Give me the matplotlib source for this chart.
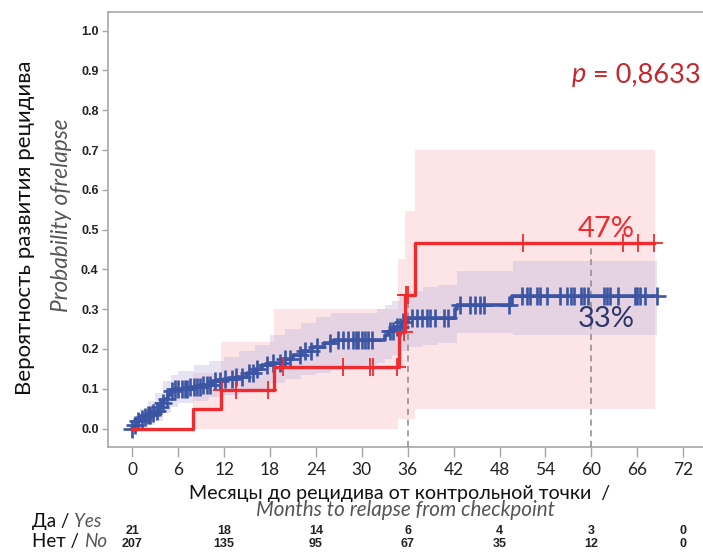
import numpy as np
import matplotlib
matplotlib.use("Agg")
import matplotlib.pyplot as plt
import matplotlib.transforms as mtransforms

plt.rcParams["font.family"] = ["Lato", "DejaVu Sans"]

# ---- data ----
x_ticks = [0, 6, 12, 18, 24, 30, 36, 42, 48, 54, 60, 66, 72]
y_ticks = [0.0, 0.1, 0.2, 0.3, 0.4, 0.5, 0.6, 0.7, 0.8, 0.9, 1.0]

# "Yes" group (red), cumulative incidence, step post
red_t = [0, 7.9, 11.55, 18.5, 34.8, 35.65, 37.0]
red_y = [0.0, 0.048, 0.098, 0.155, 0.243, 0.335, 0.466]
red_end = 68.2
red_cens = [11.7, 13.6, 17.7, 19.7, 27.5, 31.1, 31.4, 34.6, 35.5, 35.8, 36.1,
            51.1, 64.1, 66.1, 68.2]
red_ci_t = [7.9, 11.55, 18.5, 34.7, 35.6, 37.0]
red_ci_lo = [0.0, 0.0, 0.0, 0.025, 0.025, 0.048]
red_ci_hi = [0.14, 0.218, 0.30, 0.425, 0.548, 0.70]
red_ci_end = 68.3

# "No" group (blue)
blue_t = [0, 0.3, 0.7, 1.0, 1.5, 2.0, 2.5, 3.0, 3.4, 3.8, 4.2, 4.6, 5.0, 5.6,
          7.5, 9.0, 10.5, 12.0, 13.5, 15.0, 16.2, 17.0, 18.0, 19.5, 21.0, 22.2,
          23.5, 25.0, 26.3, 33.0, 33.6, 34.3, 35.2, 36.0, 42.2, 42.5, 49.6]
blue_y = [0.0, 0.01, 0.02, 0.025, 0.03, 0.035, 0.04, 0.045, 0.055, 0.065, 0.075,
          0.085, 0.095, 0.10, 0.105, 0.11, 0.12, 0.125, 0.13, 0.14, 0.15, 0.16,
          0.165, 0.175, 0.185, 0.195, 0.205, 0.215, 0.222, 0.235, 0.245, 0.255,
          0.268, 0.278, 0.30, 0.31, 0.333]
blue_end = 68.6
blue_cens = [0.0, 0.35, 0.8, 1.2, 1.65, 2.1, 2.3, 2.75, 3.2, 3.6, 4.05, 4.5, 5.15,
             5.6, 6.0, 6.5, 6.9, 7.2, 7.6, 8.0, 8.4, 8.9, 9.3, 9.7, 10.2, 10.8,
             11.5, 12.1, 13.0, 13.6, 14.3, 15.2, 15.8, 16.3, 17.6, 18.4, 19.3,
             20.0, 20.6, 21.9, 22.6, 23.4, 24.1, 25.8, 26.9, 27.6, 28.2, 28.9,
             29.2, 29.5, 30.0, 30.4, 30.8, 31.3, 33.7, 34.1, 34.6, 35.0, 35.4,
             36.5, 37.2, 37.8, 38.5, 38.9, 39.6, 40.7, 41.3, 42.8, 44.2, 44.8,
             45.5, 46.0, 49.2, 50.9, 51.6, 52.0, 52.9, 53.3, 54.2, 55.9, 56.8,
             57.3, 57.7, 58.7, 59.1, 59.6, 61.6, 62.0, 62.4, 63.5, 65.7, 66.0,
             66.4, 67.0, 68.6]
blue_ci_t = [0, 1, 2, 3, 4, 5, 6, 8, 10, 12, 14, 16, 18, 20, 22, 24, 26, 28, 30,
             32, 33, 34, 35, 36, 38, 40, 42.4, 49.7]
blue_ci_lo = [0.0, 0.0, 0.01, 0.02, 0.04, 0.055, 0.065, 0.07, 0.08, 0.085, 0.09,
              0.10, 0.115, 0.125, 0.135, 0.14, 0.15, 0.155, 0.16, 0.165, 0.175,
              0.185, 0.195, 0.205, 0.21, 0.215, 0.24, 0.235]
blue_ci_hi = [0.0, 0.05, 0.07, 0.09, 0.12, 0.135, 0.145, 0.16, 0.17, 0.18, 0.195,
              0.21, 0.235, 0.25, 0.265, 0.28, 0.29, 0.29, 0.29, 0.30, 0.31, 0.32,
              0.335, 0.345, 0.355, 0.36, 0.395, 0.42]
blue_ci_end = 68.6

guide_t = [36, 60]
p_value = "0,8633"
yes_label = "47%"
no_label = "33%"
risk_t = [0, 12, 24, 36, 48, 60, 72]
risk_yes = [21, 18, 14, 6, 4, 3, 0]
risk_no = [207, 135, 95, 67, 35, 12, 0]

RED = "#ef2b2f"
BLUE = "#3b55a4"
GREY_TXT = "#555555"


def step_at(t, y, q):
    idx = np.searchsorted(t, q, side="right") - 1
    return np.asarray(y)[np.clip(idx, 0, len(y) - 1)]


fig = plt.figure(figsize=(7.03, 5.53), dpi=100)
ax = fig.add_axes([0.154, 0.192, 0.846, 0.787])

# confidence bands
ax.fill_between(red_ci_t + [red_ci_end], red_ci_lo + [red_ci_lo[-1]],
                red_ci_hi + [red_ci_hi[-1]], step="post", color="#fde4e7",
                lw=0, zorder=1)
ax.fill_between(blue_ci_t + [blue_ci_end], blue_ci_lo + [blue_ci_lo[-1]],
                blue_ci_hi + [blue_ci_hi[-1]], step="post", color="#c6bde2",
                alpha=0.42, lw=0, zorder=2)

# guide lines
ax.vlines(guide_t, -0.046, step_at(red_t, red_y, guide_t), colors="#8a8a8a",
          linestyles=(0, (4, 3)), lw=1.1, zorder=3)

# blue curve
ax.step(blue_t + [blue_end], blue_y + [blue_y[-1]], where="post", color=BLUE,
        lw=2.6, zorder=4)
ax.plot(blue_cens, step_at(blue_t, blue_y, blue_cens), ls="none", marker="+",
        ms=13, mew=1.9, color=BLUE, zorder=4)

# red curve
ax.step(red_t + [red_end], red_y + [red_y[-1]], where="post", color=RED,
        lw=2.4, zorder=5)
ax.plot(red_cens, step_at(red_t, red_y, red_cens), ls="none", marker="+",
        ms=13, mew=1.3, color=RED, zorder=5)

ax.set_xlim(-3.15, 74.6)
ax.set_ylim(-0.046, 1.048)
ax.set_xticks(x_ticks)
ax.set_yticks(y_ticks)
ax.set_yticklabels([f"{v:.1f}" for v in y_ticks], fontfamily="Liberation Sans",
                   fontweight="bold", fontsize=9, color="#333333")
ax.set_xticklabels([str(v) for v in x_ticks], fontsize=12.5, color="#222222")
for s in ["left", "bottom", "top"]:
    ax.spines[s].set_color("#a8a8a8")
    ax.spines[s].set_linewidth(1.2)
ax.spines["right"].set_visible(False)
ax.tick_params(axis="both", colors="#a8a8a8", labelcolor="#222222", width=1)
ax.tick_params(axis="y", length=4, pad=3)
ax.tick_params(axis="x", length=7, pad=4)

# annotations
ax.text(62.0, 0.502, yes_label, color=RED, fontsize=21, ha="center", va="center",
        zorder=6)
ax.text(62.0, 0.276, no_label, color="#2c3767", fontsize=21, ha="center",
        va="center", zorder=6)


def chain(x, y, parts):
    t = fig.text(x, y, parts[0][0], ha="left", va="bottom", **parts[0][1])
    for s, kw in parts[1:]:
        t = ax.annotate(s, xy=(1, 0), xycoords=t, ha="left", va="bottom", **kw)
    return t


chain(572 / 703, 1 - 87 / 553, [("p", dict(color="#c8262c", fontsize=19.5, style="italic")),
                               (" = " + p_value, dict(color="#c8262c", fontsize=19.5))])

fig.text(25 / 703, 1 - 228 / 553, "Вероятность развития рецидива", rotation=90,
         ha="center", va="center", fontsize=16, color="#111111")
fig.text(62 / 703, 1 - 215 / 553, "Probability ofrelapse", rotation=90,
         ha="center", va="center", fontsize=16.3, style="italic", color=GREY_TXT)
fig.text(400 / 703, 1 - 493 / 553, "Месяцы до рецидива от контрольной точки  /",
         ha="center", va="center", fontsize=14.1, color="#111111")
fig.text(405 / 703, 1 - 510 / 553, "Months to relapse from checkpoint",
         ha="center", va="center", fontsize=14.9, style="italic", color=GREY_TXT)

chain(32 / 703, 1 - 530 / 553, [("Да / ", dict(fontsize=13.5, color="#111111")),
                               ("Yes", dict(fontsize=13.5, color=GREY_TXT,
                                            style="italic"))])
chain(32 / 703, 1 - 550 / 553, [("Нет / ", dict(fontsize=13.5, color="#111111")),
                               ("No", dict(fontsize=13.5, color=GREY_TXT,
                                           style="italic"))])

trans = mtransforms.blended_transform_factory(ax.transData, fig.transFigure)
for t, a, b in zip(risk_t, risk_yes, risk_no):
    ax.text(t, 1 - 531 / 553, str(a), transform=trans, ha="center", va="center",
            fontfamily="Liberation Sans", fontweight="bold", fontsize=9,
            color="#222222")
    ax.text(t, 1 - 544 / 553, str(b), transform=trans, ha="center", va="center",
            fontfamily="Liberation Sans", fontweight="bold", fontsize=9,
            color="#222222")

fig.savefig("out.png", dpi=100)
